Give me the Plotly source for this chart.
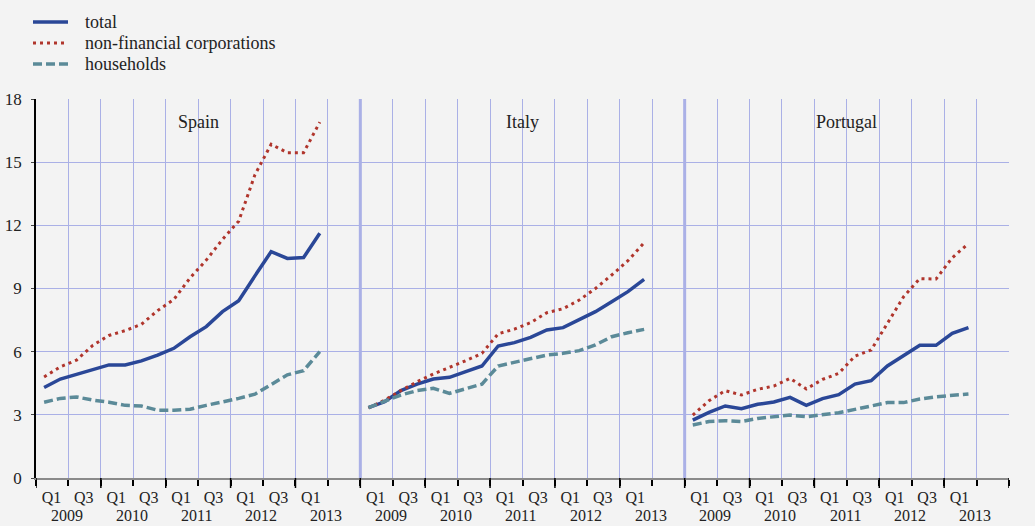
import plotly.graph_objects as go

# quarterly data, Q1 2009 .. Q2 2013
quarters = ["2009Q1", "2009Q2", "2009Q3", "2009Q4", "2010Q1", "2010Q2", "2010Q3", "2010Q4",
            "2011Q1", "2011Q2", "2011Q3", "2011Q4", "2012Q1", "2012Q2", "2012Q3", "2012Q4",
            "2013Q1", "2013Q2"]
countries = ["Spain", "Italy", "Portugal"]
years = ["2009", "2010", "2011", "2012", "2013"]
q_labels = ["Q1", "Q3", "Q1", "Q3", "Q1", "Q3", "Q1", "Q3", "Q1"]

spain_total = [4.3, 4.7, 4.92, 5.13, 5.37, 5.37, 5.56, 5.84, 6.16, 6.71, 7.19, 7.9, 8.42, 9.6, 10.75, 10.43, 10.47, 11.62]
spain_nfc = [4.8, 5.28, 5.6, 6.3, 6.77, 7.0, 7.3, 7.95, 8.48, 9.5, 10.35, 11.33, 12.2, 14.4, 15.85, 15.45, 15.45, 16.9]
spain_hh = [3.6, 3.78, 3.85, 3.7, 3.6, 3.45, 3.42, 3.22, 3.22, 3.27, 3.45, 3.6, 3.78, 3.98, 4.45, 4.9, 5.1, 6.0]

italy_total = [3.34, 3.62, 4.15, 4.46, 4.7, 4.78, 5.05, 5.32, 6.27, 6.43, 6.68, 7.03, 7.14, 7.53, 7.9, 8.37, 8.85, 9.43]
italy_nfc = [3.33, 3.7, 4.15, 4.57, 4.94, 5.25, 5.57, 5.92, 6.85, 7.07, 7.38, 7.85, 8.04, 8.45, 9.0, 9.64, 10.32, 11.17]
italy_hh = [3.34, 3.62, 3.94, 4.15, 4.26, 4.02, 4.26, 4.46, 5.32, 5.48, 5.68, 5.84, 5.92, 6.05, 6.32, 6.71, 6.9, 7.06]

portugal_total = [2.75, 3.12, 3.42, 3.29, 3.5, 3.61, 3.83, 3.45, 3.77, 3.96, 4.46, 4.62, 5.32, 5.83, 6.3, 6.3, 6.87, 7.14]
portugal_nfc = [2.99, 3.67, 4.15, 3.94, 4.21, 4.37, 4.73, 4.23, 4.68, 4.97, 5.79, 6.08, 7.34, 8.61, 9.47, 9.45, 10.46, 11.14]
portugal_hh = [2.52, 2.68, 2.72, 2.68, 2.83, 2.91, 2.99, 2.91, 2.99, 3.1, 3.26, 3.42, 3.58, 3.58, 3.75, 3.86, 3.94, 3.99]

series = {
    "total": [spain_total, italy_total, portugal_total],
    "non-financial corporations": [spain_nfc, italy_nfc, portugal_nfc],
    "households": [spain_hh, italy_hh, portugal_hh],
}
styles = {
    "total": dict(color="#2A4797", width=3.5, dash="solid"),
    "non-financial corporations": dict(color="#B0352C", width=3, dash="3px,4px"),
    "households": dict(color="#5B8A98", width=3.5, dash="9px,4px"),
}

PANEL = 20  # quarters per panel
FONT = "Liberation Serif"
GRID = "#AAB0E6"
PLOT_H = 379  # px height of plot area
PLOT_W = 973

fig = go.Figure()
for name, per_country in series.items():
    for k, vals in enumerate(per_country):
        x = [k * PANEL + i + 0.5 for i in range(len(quarters))]
        fig.add_trace(go.Scatter(
            x=x, y=vals, mode="lines", name=name, showlegend=False,
            line=styles[name], hoverinfo="skip",
        ))

# tick labels: Q1 / Q3 under each panel
tickvals, ticktext = [], []
for k in range(len(countries)):
    for j, lab in enumerate(q_labels):
        tickvals.append(k * PANEL + 2 * j + 0.95)
        ticktext.append(lab)

annotations = []
for k, c in enumerate(countries):
    annotations.append(dict(x=k * PANEL + 10, y=0.94, xref="x", yref="paper", text=c,
                            showarrow=False, font=dict(size=18, color="#222"), yanchor="middle"))
    for j, yr in enumerate(years):
        annotations.append(dict(x=k * PANEL + 4 * j + 1.9, y=-48 / PLOT_H, xref="x", yref="paper", text=yr,
                                showarrow=False, font=dict(size=16, color="#222"), yanchor="bottom"))

shapes = []
# panel dividers
for k in (1, 2):
    shapes.append(dict(type="line", x0=k * PANEL, x1=k * PANEL, y0=0, y1=1, xref="x", yref="paper",
                       line=dict(color=GRID, width=3)))
# long ticks at year boundaries
for v in range(0, 3 * PANEL + 1, 4):
    shapes.append(dict(type="line", x0=v, x1=v, y0=0, y1=-10 / PLOT_H, xref="x", yref="paper",
                       line=dict(color="black", width=1.5)))

# legend drawn by hand (tighter rows than plotly's own legend)
for r, name in enumerate(series):
    yy = (478 - (22 + 21 * r)) / PLOT_H
    shapes.append(dict(type="line", x0=-3 / PLOT_W, x1=32 / PLOT_W, y0=yy, y1=yy, xref="paper", yref="paper",
                       line=styles[name]))
    annotations.append(dict(x=47 / PLOT_W, y=yy, xref="paper", yref="paper", text=name, showarrow=False,
                            xanchor="left", yanchor="middle", font=dict(size=18, color="#222")))

fig.update_layout(
    width=1035, height=526,
    margin=dict(l=36, r=26, t=99, b=48),
    paper_bgcolor="#F3F3F3", plot_bgcolor="#F3F3F3",
    font=dict(family=FONT, size=17, color="#222"),
    showlegend=False,
    annotations=annotations,
    shapes=shapes,
    xaxis=dict(range=[0, 3 * PANEL], tickvals=tickvals, ticktext=ticktext, ticks="",
               showgrid=False, zeroline=False, showline=True, linecolor="#8A8A8A", linewidth=2,
               ticklabelstandoff=4, automargin=False, tickfont=dict(size=16),
               minor=dict(tickvals=list(range(0, 3 * PANEL + 1, 2)), ticks="outside", ticklen=6,
                          tickcolor="black", tickwidth=1.5, showgrid=True, gridcolor=GRID, gridwidth=1)),
    yaxis=dict(range=[0, 18], dtick=3, showgrid=True, gridcolor=GRID, gridwidth=1, zeroline=False,
               showline=True, linecolor="black", linewidth=1.5, ticks="outside", ticklen=3,
               ticklabelstandoff=6, automargin=False),
    yaxis2=dict(range=[0, 18], dtick=3, overlaying="y", side="right", showgrid=False, zeroline=False,
                showline=True, linecolor="black", linewidth=1.5, ticks="outside", ticklen=3,
                ticklabelstandoff=6, automargin=False),
)

# drop the default 8px page margin so the figure fills the window exactly
fig.write_html("out.html", config={"displayModeBar": False},
               post_script="document.body.style.margin = '0';")
